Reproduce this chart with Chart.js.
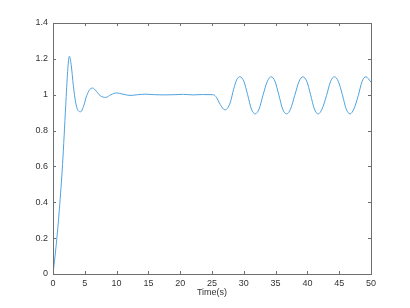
<!DOCTYPE html>
<html>
<head>
<meta charset="utf-8">
<script src="https://cdn.jsdelivr.net/npm/chart.js@4"></script>
<style>
  html, body { margin: 0; padding: 0; background: #fff; }
  #wrap { width: 410px; height: 308px; }
</style>
</head>
<body>
<div id="wrap"><canvas id="c" width="410" height="308"></canvas></div>
<script>
// time (s) and response
const time = [0, 0.5, 1.0, 1.5, 2.0, 2.3, 2.57, 2.85, 3.2, 3.6, 3.95, 4.35, 4.8, 5.3, 5.8, 6.25, 6.8, 7.4, 8.3, 9.1,
  10.0, 11.0, 12.1, 13.3, 14.5, 16, 17.5, 19, 20.5, 22, 23.5, 25.2, 25.7, 26.3, 27.0, 27.4, 27.9, 28.4, 28.9, 29.4,
  30.0, 30.6, 31.2, 31.8, 32.4, 33.0, 33.7, 34.3, 34.9, 35.5, 36.1, 36.75, 37.35, 38.0, 38.7, 39.3, 39.9, 40.5,
  41.1, 41.7, 42.3, 43.0, 43.65, 44.25, 44.85, 45.5, 46.1, 46.7, 47.3, 48.0, 48.6, 49.2, 50.0];
const response = [0, 0.16, 0.36, 0.61, 0.94, 1.13, 1.215, 1.17, 1.05, 0.95, 0.912, 0.905, 0.935, 0.995, 1.03, 1.037, 1.02, 0.995, 0.985, 1.0,
  1.01, 1.003, 0.996, 1.0, 1.003, 1.0, 0.999, 1.0, 1.002, 0.999, 1.001, 1.0, 0.985, 0.945, 0.916, 0.922, 0.96, 1.03, 1.085, 1.10,
  1.075, 1.0, 0.92, 0.893, 0.92, 0.995, 1.075, 1.10, 1.075, 1.0, 0.92, 0.893, 0.92, 0.995, 1.075, 1.10, 1.075, 1.0,
  0.92, 0.893, 0.92, 0.995, 1.075, 1.10, 1.075, 1.0, 0.92, 0.893, 0.92, 0.995, 1.075, 1.10, 1.07];

const xTicks = [0, 5, 10, 15, 20, 25, 30, 35, 40, 45, 50];
const yTicks = [0, 0.2, 0.4, 0.6, 0.8, 1, 1.2, 1.4];
const yTickLabels = ["0", "0.2", "0.4", "0.6", "0.8", "1", "1.2", "1.4"];

const axisColor = "#6e6e6e";
const textColor = "#333";

// MATLAB-like box with inward ticks on all four sides
const boxPlugin = {
  id: "box",
  afterDraw(chart) {
    const { ctx, chartArea: a, scales } = chart;
    ctx.save();
    ctx.strokeStyle = axisColor;
    ctx.lineWidth = 1;
    ctx.strokeRect(Math.round(a.left) + 0.5, Math.round(a.top) + 0.5,
      Math.round(a.right - a.left), Math.round(a.bottom - a.top));
    const len = 3;
    ctx.beginPath();
    xTicks.forEach(v => {
      const px = Math.round(scales.x.getPixelForValue(v)) + 0.5;
      ctx.moveTo(px, a.bottom); ctx.lineTo(px, a.bottom - len);
      ctx.moveTo(px, a.top); ctx.lineTo(px, a.top + len);
    });
    yTicks.forEach(v => {
      const py = Math.round(scales.y.getPixelForValue(v)) + 0.5;
      ctx.moveTo(a.left, py); ctx.lineTo(a.left + len, py);
      ctx.moveTo(a.right, py); ctx.lineTo(a.right - len, py);
    });
    ctx.stroke();
    ctx.restore();
  }
};

new Chart(document.getElementById("c"), {
  type: "line",
  data: {
    datasets: [{
      data: time.map((t, i) => ({ x: t, y: response[i] })),
      borderColor: "rgb(80,162,222)",
      borderWidth: 1,
      pointRadius: 0,
      cubicInterpolationMode: "monotone",
      fill: false
    }]
  },
  options: {
    responsive: false,
    animation: false,
    events: [],
    layout: { padding: { top: 23, right: 39, left: 0, bottom: 10 } },
    plugins: { legend: { display: false }, tooltip: { enabled: false } },
    scales: {
      x: {
        type: "linear",
        min: 0, max: 50,
        afterFit: s => { s.height = 24; },
        afterBuildTicks: s => { s.ticks = xTicks.map(v => ({ value: v })); },
        grid: { display: false, drawTicks: false },
        border: { display: false },
        ticks: {
          color: textColor, padding: 4,
          font: { family: "Liberation Sans, Arial, sans-serif", size: 9 },
          maxRotation: 0
        },
        title: {
          display: true, text: "Time(s)", color: textColor,
          font: { family: "Liberation Sans, Arial, sans-serif", size: 9 },
          padding: { top: 0, bottom: 0 }
        }
      },
      y: {
        type: "linear",
        min: 0, max: 1.4,
        afterFit: s => { s.width = 53; },
        afterBuildTicks: s => { s.ticks = yTicks.map(v => ({ value: v })); },
        grid: { display: false, drawTicks: false },
        border: { display: false },
        ticks: {
          color: textColor, padding: 5,
          font: { family: "Liberation Sans, Arial, sans-serif", size: 9 },
          callback: (v, i) => yTickLabels[i]
        }
      }
    }
  },
  plugins: [boxPlugin]
});
</script>
</body>
</html>
